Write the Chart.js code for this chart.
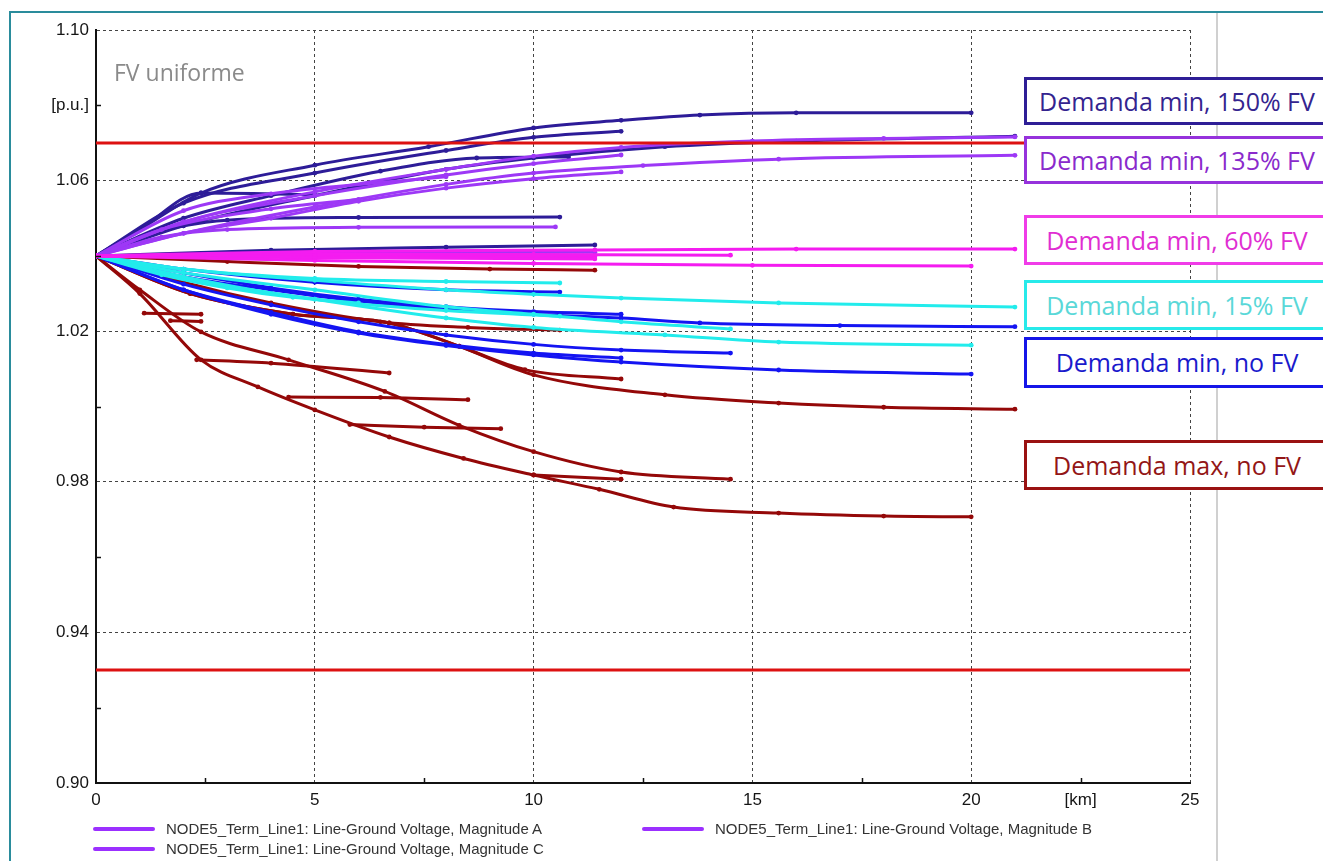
<!DOCTYPE html>
<html>
<head>
<meta charset="utf-8">
<title>Perfil de tensión - FV uniforme</title>
<script src="https://cdn.jsdelivr.net/npm/chart.js@4.4.1/dist/chart.umd.min.js"></script>
<style>
  html, body { margin: 0; padding: 0; background: #fff; }
  #wrap { position: relative; width: 1323px; height: 861px; overflow: hidden; }
  #frame { position: absolute; left: 9px; top: 11px; width: 1400px; height: 900px;
           border-left: 2px solid #2a8c9c; border-top: 2px solid #2a8c9c; }
  #sep { position: absolute; left: 1216px; top: 13px; width: 2px; height: 848px; background: #d0d0d0; }
  #chart { position: absolute; left: 0; top: 0; }
  .note { position: absolute; left: 114px; top: 61px; font-family: "Open Sans", sans-serif;
          font-size: 23px; line-height: 1; color: #8a8a8a; }
  .tag { position: absolute; left: 1024px; width: 306px; box-sizing: border-box; border: 3px solid;
         background: #fff; font-family: "Open Sans", sans-serif; font-size: 25px; line-height: 1;
         display: flex; align-items: center; justify-content: center; white-space: nowrap; }
  .leg { position: absolute; font-family: Arial, "Liberation Sans", sans-serif; font-size: 15px;
         line-height: 1; color: #333; white-space: nowrap; }
  .leg i { position: absolute; top: 6px; height: 4px; background: #9b30ff; border-radius: 2px; }
</style>
</head>
<body>
<div id="wrap">
  <div id="frame"></div>
  <div id="sep"></div>
  <canvas id="chart" width="1323" height="861"></canvas>
  <div class="note">FV uniforme</div>
  <div id="tags"></div>
  <div id="legend"></div>
</div>
<script>
// ejes
const xMajor = [0, 5, 10, 15, 20, 25];
const xMinor = [2.5, 7.5, 12.5, 17.5, 22.5];
const xUnit = { at: 22.5, text: '[km]' };
const yMajor = [0.90, 0.94, 0.98, 1.02, 1.06, 1.10];
const yMinor = [0.92, 0.96, 1.00, 1.04, 1.08];
const yUnit = { at: 1.08, text: '[p.u.]' };

// limites de tension [p.u.]
const limits = [1.07, 0.93];

// Demanda min, 150% FV  ([km, p.u.])
const min150a = [[0,1.04],[1,1.047],[2.4,1.0567],[5,1.0641],[7.6,1.069],[10,1.074],[12,1.076],[13.8,1.0774],[16,1.078],[20,1.078]];
const min150b = [[0,1.04],[2,1.054],[5,1.062],[8,1.068],[10,1.0715],[12,1.0731]];
const min150c = [[0,1.04],[2,1.048],[5,1.056],[8,1.063],[10,1.066],[13,1.069],[16,1.0705],[21,1.0718]];
const min150d = [[0,1.04],[1,1.045],[2,1.048],[3,1.0495],[6,1.0502],[10.6,1.0503]];
const min150e = [[0,1.04],[4,1.0415],[8,1.0423],[11.4,1.0429]];
const min150f = [[0,1.04],[1,1.047],[2.4,1.0567],[5,1.0563]];
const min150g = [[0,1.04],[2,1.05],[4,1.056],[6.5,1.0625],[8.7,1.066],[10.8,1.0663]];

// Demanda min, 135% FV
const min135a = [[0,1.04],[2,1.049],[5,1.057],[8,1.063],[10,1.0665],[12,1.0688],[15,1.0705],[18,1.0712],[21,1.0716]];
const min135b = [[0,1.04],[2,1.046],[5,1.053],[8,1.059],[10,1.062],[12.5,1.064],[15.6,1.0657],[21,1.0667]];
const min135c = [[0,1.04],[2,1.049],[5,1.056],[8,1.0615],[10,1.0645],[12,1.0668]];
const min135d = [[0,1.04],[2,1.046],[4,1.05],[6,1.0545],[8,1.058],[10,1.0605],[12,1.0623]];
const min135e = [[0,1.04],[1.5,1.045],[3,1.047],[6,1.0476],[10.5,1.0477]];
const min135f = [[0,1.04],[5,1.0408],[11.4,1.041]];
const min135g = [[0,1.04],[2,1.052],[4,1.0565],[6.5,1.0595],[8,1.061]];
const min135h = [[0,1.04],[1.5,1.047],[4,1.0525],[6,1.055]];

// Demanda min, 60% FV
const min60a = [[0,1.04],[5,1.0412],[11.4,1.0416],[16,1.0418],[21,1.0418]];
const min60b = [[0,1.04],[5,1.0405],[10,1.0404],[14.5,1.0402]];
const min60c = [[0,1.04],[5,1.0388],[10,1.038],[15,1.0375],[20,1.0373]];
const min60d = [[0,1.04],[5,1.0395],[11.4,1.0392]];
const min60e = [[0,1.04],[5,1.0399],[11.4,1.0398]];

// Demanda min, 15% FV
const min15a = [[0,1.04],[2,1.0365],[5,1.0335],[8,1.031],[10,1.0298],[12,1.0288],[15.6,1.0275],[21,1.0264]];
const min15b = [[0,1.04],[2,1.034],[5,1.0285],[8,1.0235],[10,1.021],[13,1.019],[15.6,1.0171],[20,1.0163]];
const min15c = [[0,1.04],[2,1.0355],[5,1.031],[8,1.0265],[10,1.0245],[12,1.0225],[14.5,1.0206]];
const min15d = [[0,1.04],[2,1.0365],[5,1.034],[8,1.0332],[10.6,1.0328]];
const min15e = [[0,1.04],[1.5,1.035],[3,1.0315],[4.5,1.029],[6,1.0275]];
const min15f = [[0,1.04],[2,1.0345],[5,1.0285],[8,1.0255],[10.6,1.024]];

// Demanda min, no FV
const min0a = [[0,1.04],[2,1.0345],[4,1.031],[6,1.028],[8,1.026],[10,1.0245],[12,1.0235],[13.8,1.0222],[17,1.0215],[21,1.0212]];
const min0b = [[0,1.04],[2,1.0355],[4,1.0315],[6,1.0285],[8,1.0265],[10,1.0252],[12,1.0245]];
const min0c = [[0,1.04],[2,1.031],[4,1.0245],[6,1.0195],[8,1.0162],[10,1.0137],[12,1.0118],[15.6,1.0097],[20,1.0086]];
const min0d = [[0,1.04],[2,1.0325],[4,1.027],[6,1.0225],[8,1.019],[10,1.0165],[12,1.015],[14.5,1.0142]];
const min0e = [[0,1.04],[2,1.031],[4,1.025],[6,1.0198],[8,1.0165],[10,1.0142],[12,1.0129]];
const min0f = [[0,1.04],[2,1.0365],[5,1.033],[8,1.031],[10.6,1.0304]];

// Demanda max, no FV
const max0a = [[0,1.04],[1,1.030],[2.4,1.0124],[3.7,1.0052],[5,0.9991],[6.7,0.9919],[8.4,0.9862],[10,0.9818],[11.5,0.978],[13.2,0.9733],[15.6,0.9717],[18,0.9709],[20,0.9707]];
const max0b = [[0,1.04],[1,1.031],[2.4,1.0198],[4.4,1.0124],[6.6,1.004],[8.3,0.995],[10,0.988],[12,0.9826],[14.5,0.9807]];
const max0c = [[0,1.04],[2.15,1.030],[4.5,1.0245],[6.7,1.0222],[8.3,1.016],[10,1.0084],[13,1.0031],[15.6,1.0009],[18,0.9998],[21,0.9993]];
const max0d = [[0,1.04],[2.15,1.030],[4.5,1.0245],[6.7,1.0222],[8.3,1.016],[9.8,1.0098],[12,1.0073]];
const max0e = [[0,1.04],[3,1.0385],[6,1.0372],[9,1.0365],[11.4,1.0362]];
const max0f = [[0,1.04],[2,1.033],[4,1.0275],[6.5,1.0225],[8.5,1.021],[10.6,1.0203]];
const max0g = [[1.1,1.0248],[2.4,1.0245]];
const max0h = [[1.7,1.0228],[2.4,1.0226]];
const max0i = [[2.3,1.0124],[4,1.0115],[6.7,1.0089]];
const max0j = [[4.4,1.0025],[6.5,1.0024],[8.5,1.0018]];
const max0k = [[5.8,0.9952],[7.5,0.9945],[9.25,0.9941]];
const max0l = [[10,0.9818],[12,0.9807]];

const groups = [
  { name: 'Demanda min, 60% FV', line: '#f41cf0', border: '#f03ce8', text: '#e02ed2', top: 215, h: 50,
    curves: [min60a, min60b, min60c, min60d, min60e] },
  { name: 'Demanda min, 135% FV', line: '#9d38f6', border: '#9632dc', text: '#8a2acc', top: 136, h: 48,
    curves: [min135a, min135b, min135c, min135d, min135e, min135f, min135g, min135h] },
  { name: 'Demanda min, 15% FV', line: '#22ecec', border: '#28eaea', text: '#5ad8d8', top: 280, h: 50,
    curves: [min15a, min15b, min15c, min15d, min15e, min15f] },
  { name: 'Demanda min, 150% FV', line: '#2d1c98', border: '#2e1e96', text: '#34248f', top: 77, h: 48,
    curves: [min150a, min150b, min150c, min150d, min150e, min150f, min150g] },
  { name: 'Demanda min, no FV', line: '#1414f2', border: '#1616e8', text: '#1a1acc', top: 337, h: 51,
    curves: [min0a, min0b, min0c, min0d, min0e, min0f] },
  { name: 'Demanda max, no FV', line: '#940808', border: '#9a1212', text: '#931616', top: 440, h: 50,
    curves: [max0a, max0b, max0c, max0d, max0e, max0f, max0g, max0h, max0i, max0j, max0k, max0l] }
];

const legendItems = [
  { text: 'NODE5_Term_Line1: Line-Ground Voltage, Magnitude A', x: 93, y: 821 },
  { text: 'NODE5_Term_Line1: Line-Ground Voltage, Magnitude B', x: 642, y: 821 },
  { text: 'NODE5_Term_Line1: Line-Ground Voltage, Magnitude C', x: 93, y: 841 }
];

const toPoints = arr => arr.map(([x, y]) => ({ x, y }));
const near = (list, v) => list.some(t => Math.abs(t - v) < 1e-6);

const datasets = [];
limits.forEach(v => {
  datasets.push({
    data: toPoints([[0, v], [25, v]]),
    borderColor: '#dd1111', borderWidth: 3, pointRadius: 0, order: 0
  });
});
groups.forEach(g => {
  g.curves.forEach(c => {
    datasets.push({
      data: toPoints(c),
      borderColor: g.line,
      backgroundColor: g.line,
      borderWidth: 3,
      pointRadius: 2.4,
      pointBorderWidth: 0,
      cubicInterpolationMode: 'monotone',
      order: 1
    });
  });
});

// marcas menores hacia dentro del grafico
const innerTicks = {
  id: 'innerTicks',
  afterDraw(chart) {
    const { ctx, chartArea } = chart;
    const sx = chart.scales.x, sy = chart.scales.y;
    ctx.save();
    ctx.strokeStyle = '#111';
    ctx.lineWidth = 1.5;
    xMinor.forEach(v => {
      const px = Math.round(sx.getPixelForValue(v)) + 0.5;
      ctx.beginPath();
      ctx.moveTo(px, chartArea.bottom);
      ctx.lineTo(px, chartArea.bottom - 5);
      ctx.stroke();
    });
    yMinor.forEach(v => {
      const py = Math.round(sy.getPixelForValue(v)) + 0.5;
      ctx.beginPath();
      ctx.moveTo(chartArea.left, py);
      ctx.lineTo(chartArea.left + 5, py);
      ctx.stroke();
    });
    ctx.restore();
  }
};

const tickFont = { family: 'Arial, "Liberation Sans", sans-serif', size: 17 };

new Chart(document.getElementById('chart'), {
  type: 'line',
  data: { datasets },
  plugins: [innerTicks],
  options: {
    responsive: false,
    animation: false,
    devicePixelRatio: 1,
    layout: { padding: { top: 30, left: 0, right: 133, bottom: 0 } },
    plugins: { legend: { display: false }, tooltip: { enabled: false } },
    scales: {
      x: {
        type: 'linear', min: 0, max: 25,
        afterFit: s => { s.height = 78; },
        ticks: {
          stepSize: 2.5, autoSkip: false, maxRotation: 0, padding: 7,
          color: '#151515', font: tickFont,
          callback: v => near(xMajor, v) ? String(v) : (Math.abs(v - xUnit.at) < 1e-6 ? xUnit.text : '')
        },
        grid: {
          drawTicks: false, lineWidth: 1,
          color: c => (c.tick && near(xMajor, c.tick.value)) ? '#444' : 'rgba(0,0,0,0)'
        },
        border: { display: true, color: '#111', width: 2, dash: [3, 3] }
      },
      y: {
        type: 'linear', min: 0.90, max: 1.10,
        afterFit: s => { s.width = 96; },
        ticks: {
          stepSize: 0.02, autoSkip: false, padding: 7,
          color: '#151515', font: tickFont,
          callback: v => near(yMajor, v) ? v.toFixed(2) : (Math.abs(v - yUnit.at) < 1e-6 ? yUnit.text : '')
        },
        grid: {
          drawTicks: false, lineWidth: 1,
          color: c => (c.tick && near(yMajor, c.tick.value)) ? '#444' : 'rgba(0,0,0,0)'
        },
        border: { display: true, color: '#111', width: 2, dash: [3, 3] }
      }
    }
  }
});

// recuadros de texto a la derecha
const tags = document.getElementById('tags');
groups.forEach(g => {
  const d = document.createElement('div');
  d.className = 'tag';
  d.style.top = g.top + 'px';
  d.style.height = g.h + 'px';
  d.style.borderColor = g.border;
  d.style.color = g.text;
  d.textContent = g.name;
  tags.appendChild(d);
});

// leyenda
const legend = document.getElementById('legend');
legendItems.forEach(it => {
  const d = document.createElement('div');
  d.className = 'leg';
  d.style.left = it.x + 'px';
  d.style.top = it.y + 'px';
  d.style.paddingLeft = '73px';
  d.innerHTML = '<i style="left:0;width:62px"></i>';
  d.appendChild(document.createTextNode(it.text));
  legend.appendChild(d);
});
</script>
</body>
</html>
